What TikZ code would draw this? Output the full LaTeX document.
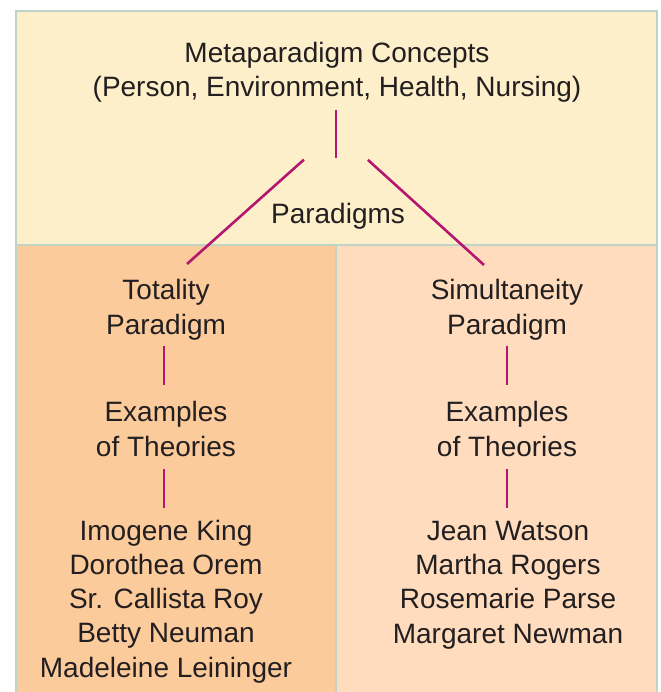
\documentclass[tikz,border=0pt]{standalone}
\usepackage{fontspec}
\setmainfont{Liberation Sans}
\definecolor{topfill}{HTML}{FDEFC9}
\definecolor{leftfill}{HTML}{FCCB9B}
\definecolor{rightfill}{HTML}{FEDCBD}
\definecolor{frame}{HTML}{BFD3C7}
\definecolor{link}{HTML}{B5166F}
\definecolor{ink}{HTML}{231F20}
\begin{document}
\begin{tikzpicture}[x=1pt,y=-1pt,
  % multi-line labels are placed by the baseline of their last line
  label/.style={inner sep=0pt, anchor=base, align=center, text=ink,
    font=\fontsize{28}{34.2}\selectfont},
  connector/.style={draw=link, line width=2.6pt},
  panel/.style={draw=frame, line width=1.4pt}]
\useasboundingbox (0,0) rectangle (660,692);
\begin{scope}
\clip (0,0) rectangle (660,692);
% panels
\fill[topfill] (16,11) rectangle (657,245);
\fill[leftfill] (16,245) rectangle (336,700);
\fill[rightfill] (336,245) rectangle (657,700);
\draw[panel] (16,700) -- (16,11) -- (657,11) -- (657,700);
\draw[panel] (16,245) -- (657,245);
\draw[panel] (336,245) -- (336,700);
\end{scope}
% texts
\node[label] (meta) at (337,97) {Metaparadigm Concepts\\(Person, Environment, Health, Nursing)};
\node[label] (parad) at (338,224) {Paradigms};
\node[label] (tot) at (166,334) {Totality\\Paradigm};
\node[label] (sim) at (507,334) {Simultaneity\\Paradigm};
\node[label] (exl) at (166,456) {Examples\\of Theories};
\node[label] (exr) at (507,456) {Examples\\of Theories};
\node[label] (namesl) at (166,677) {Imogene King\\Dorothea Orem\\Sr. Callista Roy\\Betty Neuman\\Madeleine Leininger};
\node[label] (namesr) at (508,643) {Jean Watson\\Martha Rogers\\Rosemarie Parse\\Margaret Newman};
% branching point of the paradigm links
\coordinate (hub) at (336,131);
\coordinate (totend) at (187,264);
\coordinate (simend) at (484,265);
\draw[connector] (336,110) -- (336,158);
\draw[connector, shorten <=43pt] (hub) -- (totend);
\draw[connector, shorten <=43pt] (hub) -- (simend);
% column links
\draw[connector] (164,346) -- (164,385);
\draw[connector] (164,469) -- (164,508);
\draw[connector] (507,346) -- (507,385);
\draw[connector] (507,469) -- (507,508);
\end{tikzpicture}
\end{document}
